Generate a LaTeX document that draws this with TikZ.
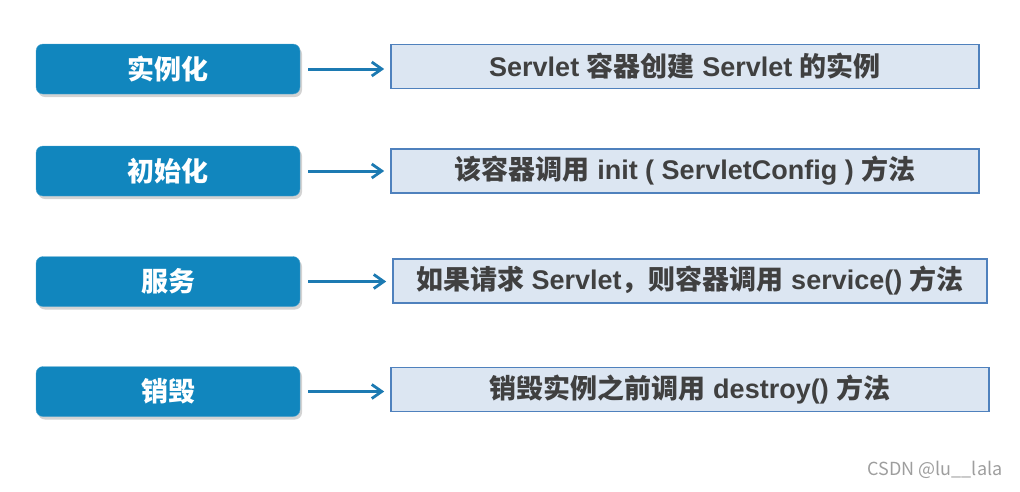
\documentclass[tikz,border=0pt]{standalone}
\usepackage{fontspec}
\setmainfont{Liberation Sans}
\newfontfamily\cjk{Noto Sans CJK SC}
\usetikzlibrary{shadows,arrows.meta}
\definecolor{stageblue}{RGB}{17,134,190}
\definecolor{descfill}{RGB}{220,230,242}
\definecolor{descline}{RGB}{79,129,189}
\definecolor{desctext}{RGB}{64,64,64}
\definecolor{flowblue}{RGB}{28,122,178}
\newcommand{\zh}[1]{{\cjk #1}}

\begin{document}
\begin{tikzpicture}[x=1pt,y=-1pt,
  stage/.style={fill=stageblue,draw=stageblue!75!white,rounded corners=7pt,
    minimum width=264pt,minimum height=50pt,inner sep=0pt,text=white,
    font=\cjk\bfseries\fontsize{27}{30}\selectfont,
    drop shadow={shadow xshift=2pt,shadow yshift=-3pt,opacity=0.35}},
  desc/.style={fill=descfill,draw=descline,line width=1.6pt,
    minimum height=44pt,inner sep=0pt,text=desctext,
    font=\bfseries\fontsize{27}{30}\selectfont},
  flow/.style={draw=flowblue,line width=3pt,
    -{Straight Barb[length=10pt,width=14pt,line width=2.8pt]},
    shorten <=8pt,shorten >=6pt}]

\useasboundingbox (0,0) rectangle (1020,491);

% stages
\node[stage] (inst) at (168,69) {实例化};
\node[stage] (init) at (168,171) {初始化};
\node[stage] (serv) at (168,281.5) {服务};
\node[stage] (dest) at (168,391.5) {销毁};

% what happens
\node[desc,minimum width=588pt] (dinst) at (685,66.5) {Servlet \zh{容器创建} Servlet \zh{的实例}};
\node[desc,minimum width=588pt] (dinit) at (685,171) {\zh{该容器调用} init ( ServletConfig ) \zh{方法}};
\node[desc,minimum width=594pt] (dserv) at (690,281) {\zh{如果请求} Servlet\zh{，则容器调用} service() \zh{方法}};
\node[desc,minimum width=598pt] (ddest) at (690,389.5) {\zh{销毁实例之前调用} destroy() \zh{方法}};

\foreach \s/\d in {inst/dinst,init/dinit,serv/dserv,dest/ddest}
  \draw[flow] (\s.east) -- (\s.east -| \d.west);

\node[text=black!38,font=\cjk\fontsize{18}{20}\selectfont,anchor=east] (mark) at (1006,470) {CSDN @lu\_\_lala};

\end{tikzpicture}
\end{document}
